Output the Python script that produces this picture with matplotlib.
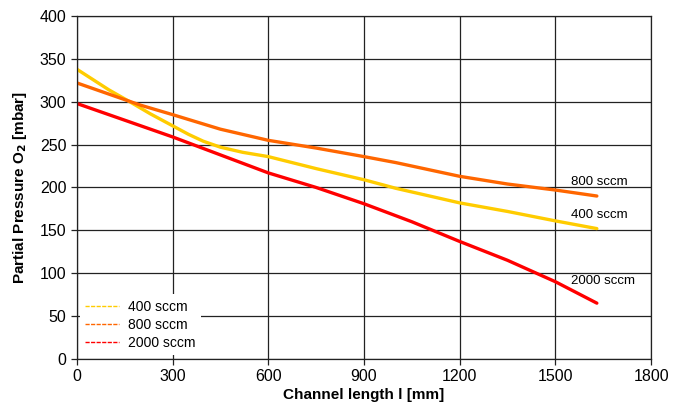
import numpy as np
import matplotlib
matplotlib.use("Agg")
import matplotlib.pyplot as plt

plt.rcParams['font.family'] = ['Liberation Sans', 'DejaVu Sans']

# channel length [mm] and partial pressure O2 [mbar]
x_400 = [0, 50, 100, 166, 230, 300, 350, 396, 450, 520, 600, 750, 900, 1000, 1200, 1350, 1500, 1630]
y_400 = [338, 326, 314, 300, 286, 272, 262, 254, 247, 241, 236, 222, 209, 199, 182, 172, 161, 152]

x_800 = [0, 100, 200, 300, 450, 600, 750, 900, 1000, 1200, 1350, 1500, 1630]
y_800 = [322, 309, 296, 285, 268, 255, 246, 236, 229, 213, 204, 197, 190]

x_2000 = [0, 100, 200, 300, 450, 600, 750, 900, 1050, 1200, 1350, 1500, 1630]
y_2000 = [298, 285, 272, 259, 238, 217, 200, 181, 160, 137, 115, 90, 65]

series = [
    ("400 sccm", x_400, y_400, "#ffcc00"),
    ("800 sccm", x_800, y_800, "#ff6600"),
    ("2000 sccm", x_2000, y_2000, "#ff0000"),
]

fig = plt.figure(figsize=(6.74, 4.12), dpi=100)
ax = fig.add_axes([0.114, 0.129, 0.852, 0.832])

for label, xs, ys, col in series:
    ax.plot(xs, ys, color=col, lw=2.4, solid_capstyle='round', label=label)

ax.set_xlim(0, 1800)
ax.set_ylim(0, 400)
ax.set_xticks(np.arange(0, 1801, 300))
ax.set_yticks(np.arange(0, 401, 50))
ax.grid(True, color='#222222', lw=0.9)
ax.set_axisbelow(True)
for s in ax.spines.values():
    s.set_color('#222222')
    s.set_linewidth(0.9)
ax.tick_params(direction='out', length=4, width=0.9, color='#222222', labelsize=11.5)

ax.set_xlabel('Channel length l [mm]', fontweight='bold', fontsize=11, labelpad=3)
ax.set_ylabel(r'Partial Pressure O$_\mathbf{2}$ [mbar]', fontweight='bold', fontsize=11, labelpad=8)

# end labels
ax.text(1550, 206, '800 sccm', fontsize=9.5, va='center')
ax.text(1550, 168, '400 sccm', fontsize=9.5, va='center')
ax.text(1550, 91, '2000 sccm', fontsize=9.5, va='center')

handles = [plt.Line2D([], [], color=c, lw=1, ls=(0, (3, 1))) for _, _, _, c in series]
leg = ax.legend(handles, [s[0] for s in series], loc='lower left', bbox_to_anchor=(0.005, 0.01),
                frameon=True, facecolor='white', edgecolor='none', framealpha=1, fancybox=False,
                fontsize=10, handlelength=2.4, handletextpad=0.7, labelspacing=0.3,
                borderpad=0.4, borderaxespad=0)

fig.savefig('out.png', dpi=100)
